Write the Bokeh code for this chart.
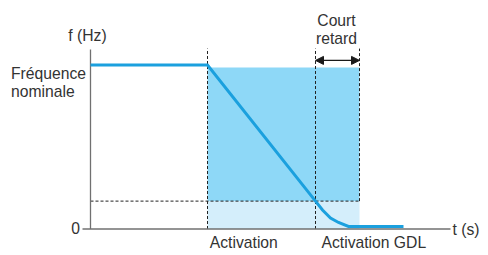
from bokeh.plotting import figure
from bokeh.models import Range1d, Arrow, NormalHead
from bokeh.core.properties import value
from bokeh.embed import file_html
from bokeh.resources import INLINE

# ---- data (arbitrary time units, Hz) ----
t_curve = [0.0, 11.7, 22.5, 23.2, 24.0, 24.8, 25.8, 31.3]
f_curve = [50.0, 50.0, 8.5, 5.8, 3.35, 1.98, 0.76, 0.76]
t_activation = 11.7
t_gdl = 22.5
t_delay_end = 26.9
f_nominal_fill = 49.2
f_threshold = 8.5
f_top = 55.0
t_axis_end = 36.0
f_axis_top = 54.7
f_arrow = 51.4

FONT = value("Liberation Sans")
TXT = "#333333"
FS = "15.7px"

p = figure(width=488, height=255, x_range=Range1d(-9.0, 39.8), y_range=Range1d(-8.08, 69.66),
           output_backend="svg", toolbar_location=None, min_border=0,
           x_axis_location=None, y_axis_location=None)
p.grid.visible = False
p.outline_line_color = None

# fills
p.quad(left=[t_activation], right=[t_delay_end], bottom=[f_threshold], top=[f_nominal_fill],
       fill_color="#8ED8F7", line_color=None)
p.quad(left=[t_activation], right=[t_delay_end], bottom=[0], top=[f_threshold],
       fill_color="#D4EEFB", line_color=None)

# dashed guides
dash_kw = dict(line_color="#222222", line_width=1, line_dash="3 2")
p.segment(x0=[t_activation, t_gdl, t_delay_end, 0.0],
          y0=[0, 0, f_threshold, f_threshold],
          x1=[t_activation, t_gdl, t_delay_end, t_delay_end],
          y1=[f_top, f_top, f_top, f_threshold], **dash_kw)

# axes
p.segment(x0=[-0.8, 0.0], y0=[0, 0], x1=[t_axis_end, 0.0], y1=[0, f_axis_top],
          line_color="#707070", line_width=1.3)

# frequency curve
p.line(t_curve, f_curve, line_color="#1BA0DE", line_width=3, line_join="miter")

# double arrow
head = dict(size=8, fill_color="#1a1a1a", line_color="#1a1a1a")
p.add_layout(Arrow(x_start=t_gdl, x_end=t_delay_end, y_start=f_arrow, y_end=f_arrow,
                   start=NormalHead(**head), end=NormalHead(**head),
                   line_color="#1a1a1a", line_width=1.2))

def txt(x, y, s, align="left"):
    p.text(x=[x], y=[y], text=[s], text_font=FONT, text_font_size=FS, text_color=TXT,
           text_align=align, text_baseline="alphabetic")

txt(-0.3, 59.02, "f (Hz)", "center")
txt(-7.95, 47.52, "Fréquence")
txt(-7.95, 41.92, "nominale")
txt(24.6, 63.52, "Court", "center")
txt(24.6, 58.02, "retard", "center")
txt(-1.05, 0.45, "0", "right")
txt(36.2, -0.18, "t (s)")
txt(11.93, -4.06, "Activation")
txt(23.1, -4.06, "Activation GDL")

open("out.html", "w").write(file_html(p, INLINE))
